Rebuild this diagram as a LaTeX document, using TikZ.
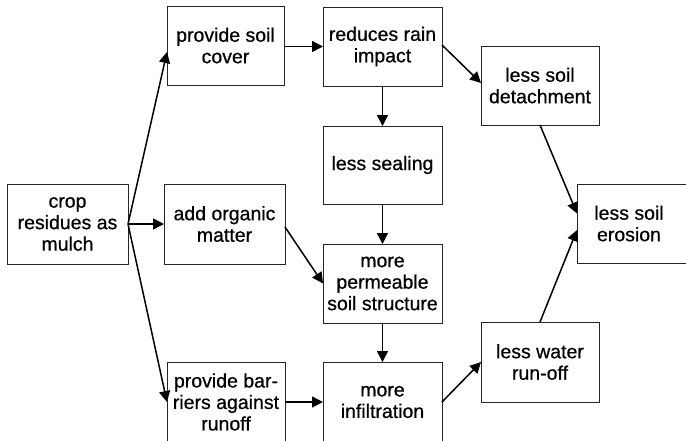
\documentclass[tikz,border=0pt]{standalone}
\usepackage{fontspec}
\setmainfont{Liberation Sans}[FakeBold=0.6]
\usetikzlibrary{arrows.meta}

\tikzset{
  box/.style={draw=black!85, line width=0.8pt, outer sep=0pt, inner sep=2pt,
    align=center, text=black,
    font=\fontsize{19.5pt}{21.5pt}\selectfont},
  flow/.style={draw=black, line width=1.5pt,
    -{Triangle[length=11pt,width=11pt]}}
}

\begin{document}
\begin{tikzpicture}[x=1pt, y=-1pt]
  \useasboundingbox (0,0) rectangle (686,440);
  \begin{scope}
  \clip (0,0) rectangle (686,440);

  % first column: the source
  \node[box, minimum width=121pt, minimum height=80pt] (crop) at (67.5,224)
    {crop\\residues as\\mulch};

  % second column: direct effects of the mulch
  \node[box, minimum width=117pt, minimum height=79pt] (cover) at (225.5,45.5)
    {provide soil\\cover};
  \node[box, minimum width=121pt, minimum height=80pt] (organic) at (224.5,224)
    {add organic\\matter};
  \node[box, minimum width=118pt, minimum height=80pt] (barrier) at (226,402)
    {provide bar-\\riers against\\runoff};

  % third column: soil surface processes
  \node[box, minimum width=119pt, minimum height=79pt] (rain) at (382.5,46.5)
    {reduces rain\\impact};
  \node[box, minimum width=119pt, minimum height=78pt] (sealing) at (382.5,165)
    {less sealing};
  \node[box, minimum width=119pt, minimum height=79pt] (perm) at (382.5,283.5)
    {more\\permeable\\soil structure};
  \node[box, minimum width=119pt, minimum height=80pt] (infil) at (382.5,402)
    {more\\infiltration};

  % fourth column
  \node[box, minimum width=118pt, minimum height=79pt] (detach) at (540,85.5)
    {less soil\\detachment};
  \node[box, minimum width=118pt, minimum height=80pt] (runoff) at (540,362)
    {less water\\run-off};

  % outcome, running off the right edge
  \node[box, draw=none, minimum width=104pt, minimum height=79pt] (erosion)
    at (629,223.5) {less soil\\erosion};
  \draw[draw=black!85, line width=0.8pt]
    ([xshift=20pt]erosion.north east) -- (erosion.north west)
    -- (erosion.south west) -- ([xshift=20pt]erosion.south east);

  % connectors
  \draw[flow] (crop.east) -- ([yshift=-6.5pt]cover.west);
  \draw[flow] (crop.east) -- (organic.west);
  \draw[flow] (crop.east) -- (barrier.west);

  \draw[flow] ([yshift=-1pt]cover.east) -- ([yshift=-1pt]cover.east -| rain.west);
  \draw[flow] (rain.south) -- (sealing.north);
  \draw[flow] ([yshift=1.5pt]rain.east) -- ([yshift=2.5pt]detach.west);
  \draw[flow] (sealing.south) -- (perm.north);
  \draw[flow] ([yshift=-3pt]organic.east) -- (perm.west);
  \draw[flow] (perm.south) -- (infil.north);
  \draw[flow] (barrier.east) -- (infil.west);
  \draw[flow] (infil.east) -- (runoff.west);

  \draw[flow] (detach.south) -- ([yshift=10pt]erosion.west);
  \draw[flow] (runoff.north) -- ([yshift=-6.5pt]erosion.west);
  \end{scope}
\end{tikzpicture}
\end{document}
